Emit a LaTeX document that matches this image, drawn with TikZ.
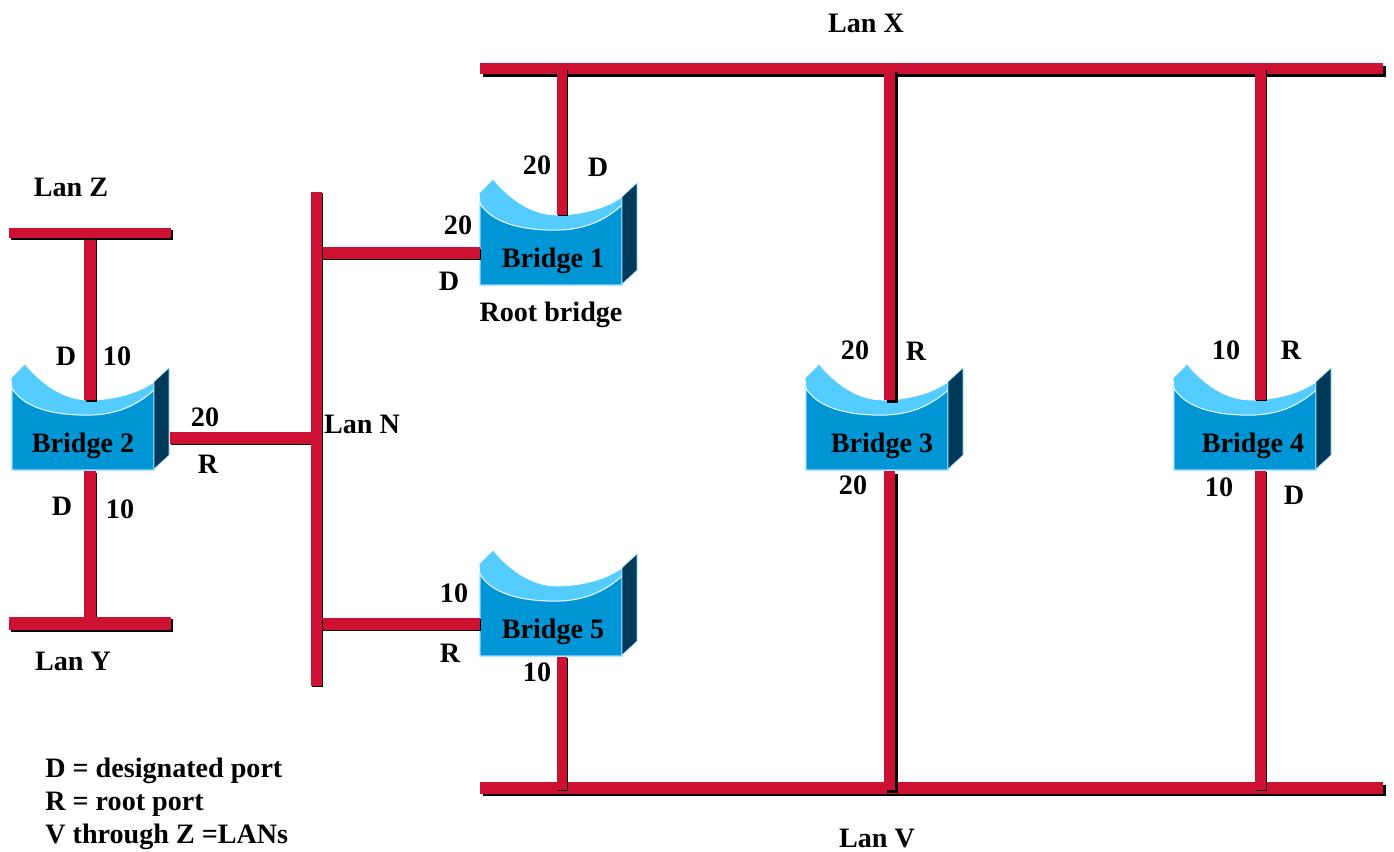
\documentclass[tikz,border=0pt]{standalone}
\usepackage{fontspec}
\setmainfont{Liberation Serif}
\usetikzlibrary{positioning}
\definecolor{lanred}{HTML}{CC1133}
\definecolor{bridgeblue}{HTML}{0095D5}
\definecolor{bridgelight}{HTML}{55CCFF}
\definecolor{bridgedark}{HTML}{003A58}
\definecolor{bridgeedge}{HTML}{99DDFF}
\tikzset{
  lan/.style 2 args={draw=lanred, line width=#1,
    preaction={draw=black, line width=#1, transform canvas={xshift=#2, yshift=-#2}}},
  lbl/.style={font=\fontsize{16}{18}\selectfont\bfseries, inner sep=0pt},
}
% name, left, bottom, label, label x
\newcommand{\bridge}[5]{
  \begin{scope}[shift={(#2,#3)}]
    \fill[bridgeblue, draw=bridgeedge, line width=0.8pt] (0,-82) .. controls (10,-65) and (35,-55) .. (75,-55)
      .. controls (105,-55) and (125,-65) .. (142,-80) -- (142,0) -- (0,0) -- cycle;
    \fill[bridgelight, draw=white, line width=0.4pt] (-1,-92) -- (13,-106) .. controls (28,-88) and (50,-70) .. (77,-70)
      .. controls (100,-70) and (125,-76) .. (142,-88) -- (142,-80)
      .. controls (125,-65) and (105,-55) .. (75,-55) .. controls (35,-55) and (10,-65) .. (0,-82) -- cycle;
    \fill[bridgedark, draw=bridgeedge, line width=0.3pt] (142,-88) -- (157,-102) -- (157,-15) -- (142,-1) -- cycle;
    \coordinate (#1 top) at (72,-70);
    \coordinate (#1 bot) at (72,1);
    \coordinate (#1 left) at (0,-32);
    \coordinate (#1 right) at (158,-32);
    \node[lbl] (#1 name) at (#5,-24) {#4};
  \end{scope}
}

\begin{document}
\begin{tikzpicture}[x=0.02cm, y=-0.02cm]
  \useasboundingbox (0,0) rectangle (1394,852);
  % LAN ends
  \coordinate (xa) at (480,68.5);
  \coordinate (xb) at (1383,68.5);
  \coordinate (va) at (480,788);
  \coordinate (vb) at (1383,788);
  \coordinate (za) at (9,233);
  \coordinate (zb) at (171,233);
  \coordinate (ya) at (9,623.5);
  \coordinate (yb) at (171,623.5);
  \coordinate (na) at (316.5,192);
  \coordinate (nb) at (316.5,686);
  % Taps on the LANs
  \coordinate (xone) at (562,69);
  \coordinate (xthree) at (889.5,69);
  \coordinate (xfour) at (1260.5,69);
  \coordinate (vfive) at (562,790);
  \coordinate (vthree) at (889.5,790);
  \coordinate (vfour) at (1260.5,790);
  \coordinate (ztwo) at (90,233);
  \coordinate (ytwo) at (90,623.5);
  % Lan X and Lan V
  \draw[lan={6.3pt}{1.5pt}] (xa) -- (xb);
  \draw[lan={6.3pt}{1.5pt}] (va) -- (vb);
  % Bridges
  \bridge{brone}{480}{285}{Bridge 1}{73}
  \bridge{brtwo}{12}{470}{Bridge 2}{71}
  \bridge{brthree}{806}{470}{Bridge 3}{76}
  \bridge{brfour}{1174}{470}{Bridge 4}{79}
  \bridge{brfive}{480}{656}{Bridge 5}{73}
  % Wires to Lan X
  \draw[lan={5.7pt}{0.5pt}] (xone) -- (xone |- brone top);
  \draw[lan={6.3pt}{1.7pt}] (xthree) -- (xthree |- brthree top);
  \draw[lan={6.3pt}{0.5pt}] (xfour) -- (xfour |- brfour top);
  % Wires to Lan V
  \draw[lan={5.7pt}{0.3pt}] (brfive bot -| vfive) -- (vfive);
  \draw[lan={6.3pt}{1.7pt}] (brthree bot -| vthree) -- (vthree);
  \draw[lan={6.3pt}{0.5pt}] (brfour bot -| vfour) -- (vfour);
  % Bridge 2 up and down
  \draw[lan={6.3pt}{1pt}] (ztwo) -- (ztwo |- brtwo top);
  \draw[lan={6.3pt}{1pt}] (brtwo bot -| ytwo) -- (ytwo);
  % Wires to Lan N
  \draw[lan={6.3pt}{0.8pt}] (brtwo right) -- (brtwo right -| na);
  \draw[lan={6.6pt}{0.8pt}] (brone left) -- (brone left -| na);
  \draw[lan={6.9pt}{0.8pt}] (brfive left) -- (brfive left -| na);
  % Lan Z, Lan Y and Lan N, over their wires
  \draw[lan={5.7pt}{1pt}] (za) -- (zb);
  \draw[lan={7.4pt}{1pt}] (ya) -- (yb);
  \draw[lan={6.3pt}{0.8pt}] (na) -- (nb);
  % LAN names
  \node[lbl] (lanx) at (866,23) {Lan X};
  \node[lbl] (lanz) at (71,187) {Lan Z};
  \node[lbl] (lany) at (73,661) {Lan Y};
  \node[lbl] (lann) at (362,424) {Lan N};
  \node[lbl] (lanv) at (877,839) {Lan V};
  \node[lbl] (root) at (551,315) {Root bridge};
  % Port labels
  \node[lbl] (onecosta) at (537,165) {20};
  \node[lbl] (oneporta) at (598,167) {D};
  \node[lbl] (onecostb) at (458,225) {20};
  \node[lbl] (oneportb) at (449,281) {D};
  \node[lbl] (twoporta) at (66,356) {D};
  \node[lbl] (twocosta) at (117,356) {10};
  \node[lbl] (twocostb) at (205,417) {20};
  \node[lbl] (twoportb) at (208,464) {R};
  \node[lbl] (twoportc) at (62,506) {D};
  \node[lbl] (twocostc) at (120,509) {10};
  \node[lbl] (threecosta) at (855,350) {20};
  \node[lbl] (threeporta) at (916,351) {R};
  \node[lbl] (threecostb) at (853,485) {20};
  \node[lbl] (fourcosta) at (1226,350) {10};
  \node[lbl] (fourporta) at (1291,350) {R};
  \node[lbl] (fourcostb) at (1219,487) {10};
  \node[lbl] (fourportb) at (1294,495) {D};
  \node[lbl] (fivecosta) at (454,593) {10};
  \node[lbl] (fiveporta) at (450,653) {R};
  \node[lbl] (fivecostb) at (537,672) {10};
  % Legend
  \node[lbl, anchor=west, align=left, font=\fontsize{16}{18.8}\selectfont\bfseries] (legend) at (45,804)
    {D = designated port\\R = root port\\V through Z =LANs};
\end{tikzpicture}
\end{document}
